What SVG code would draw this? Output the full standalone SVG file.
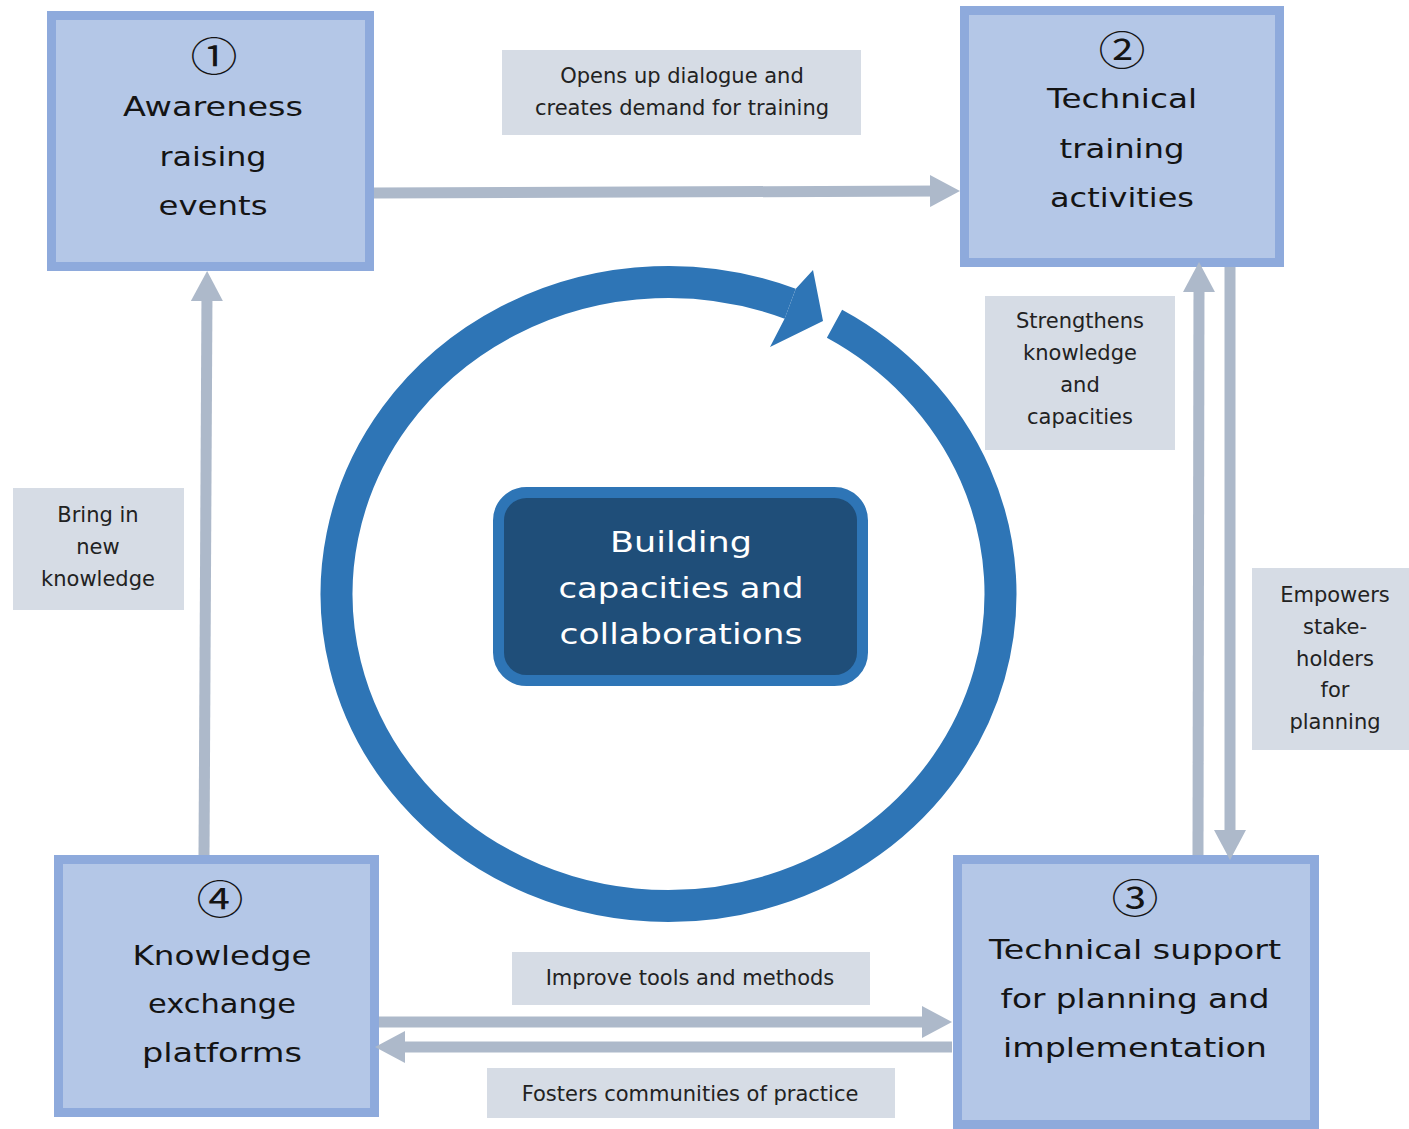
<svg xmlns="http://www.w3.org/2000/svg" width="1409" height="1129" viewBox="0 0 1409 1129">
<style>
.node{fill:#b4c7e7;stroke:#8eaadc;stroke-width:9}
.nt{font-family:"DejaVu Sans",sans-serif;font-size:27px;fill:#141414;text-anchor:middle}
.num{font-family:"Noto Sans CJK JP","DejaVu Sans",sans-serif;font-size:40px;fill:#141414;text-anchor:middle}
.lbl{fill:#d6dce5}
.lt{font-family:"DejaVu Sans",sans-serif;font-size:21px;fill:#222;text-anchor:middle}
.ct{font-family:"DejaVu Sans",sans-serif;font-size:28px;fill:#fff;text-anchor:middle}
.conn{stroke:#adb9ca;stroke-width:11;fill:none;marker-end:url(#ah)}
</style>
<defs>
<marker id="ah" markerUnits="userSpaceOnUse" markerWidth="30" markerHeight="32" refX="10" refY="16" orient="auto" viewBox="0 0 30 32">
<path d="M0,0 L30,16 L0,32 z" fill="#adb9ca"/>
</marker>
</defs>
<rect width="1409" height="1129" fill="#fff"/>

<g id="cycle">
<path d="M834.5,323.8 A332,312 0 0,1 668.5,906 A332,312 0 1,1 790.2,303.7" fill="none" stroke="#2e75b6" stroke-width="32"/>
<polygon points="795.8,288.7 813,270 823,321 770,347 784.6,318.7" fill="#2e75b6"/>
</g>

<g id="center">
<rect x="498.5" y="492.5" width="364" height="188" rx="28" fill="#1f4e79" stroke="#2e75b6" stroke-width="11"/>
<text class="ct" x="681" y="552" textLength="142" lengthAdjust="spacingAndGlyphs">Building</text>
<text class="ct" x="681" y="598" textLength="245" lengthAdjust="spacingAndGlyphs">capacities and</text>
<text class="ct" x="681" y="644" textLength="243" lengthAdjust="spacingAndGlyphs">collaborations</text>
</g>

<g id="labels">
<g id="lbl-opens"><rect class="lbl" x="502" y="50" width="359" height="85"/>
<text class="lt" x="682" y="83">Opens up dialogue and</text>
<text class="lt" x="682" y="115">creates demand for training</text></g>
<g id="lbl-strength"><rect class="lbl" x="985" y="296" width="190" height="154"/>
<text class="lt" x="1080" y="328">Strengthens</text>
<text class="lt" x="1080" y="360">knowledge</text>
<text class="lt" x="1080" y="392">and</text>
<text class="lt" x="1080" y="424">capacities</text></g>
<g id="lbl-empowers"><rect class="lbl" x="1252" y="568" width="157" height="182"/>
<text class="lt" x="1335" y="602">Empowers</text>
<text class="lt" x="1335" y="634">stake-</text>
<text class="lt" x="1335" y="666">holders</text>
<text class="lt" x="1335" y="697">for</text>
<text class="lt" x="1335" y="729">planning</text></g>
<g id="lbl-bring"><rect class="lbl" x="13" y="488" width="171" height="122"/>
<text class="lt" x="98" y="522">Bring in</text>
<text class="lt" x="98" y="554">new</text>
<text class="lt" x="98" y="586">knowledge</text></g>
<g id="lbl-improve"><rect class="lbl" x="512" y="952" width="358" height="53"/>
<text class="lt" x="690" y="985">Improve tools and methods</text></g>
<g id="lbl-fosters"><rect class="lbl" x="487" y="1068" width="408" height="50"/>
<text class="lt" x="690" y="1101">Fosters communities of practice</text></g>
</g>

<g id="node1">
<rect class="node" x="51.5" y="15.5" width="318" height="251"/>
<text class="num" x="214" y="71" textLength="47" lengthAdjust="spacingAndGlyphs">①</text>
<text class="nt" x="213" y="116" textLength="180" lengthAdjust="spacingAndGlyphs">Awareness</text>
<text class="nt" x="213" y="166" textLength="107" lengthAdjust="spacingAndGlyphs">raising</text>
<text class="nt" x="213" y="215" textLength="109" lengthAdjust="spacingAndGlyphs">events</text>
</g>

<g id="node2">
<rect class="node" x="964.5" y="10.5" width="315" height="252"/>
<text class="num" x="1122" y="65" textLength="47" lengthAdjust="spacingAndGlyphs">②</text>
<text class="nt" x="1122" y="108" textLength="150" lengthAdjust="spacingAndGlyphs">Technical</text>
<text class="nt" x="1122" y="158" textLength="125" lengthAdjust="spacingAndGlyphs">training</text>
<text class="nt" x="1122" y="207" textLength="144" lengthAdjust="spacingAndGlyphs">activities</text>
</g>

<g id="node3">
<rect class="node" x="957.5" y="859.5" width="357" height="265"/>
<text class="num" x="1135" y="913" textLength="47" lengthAdjust="spacingAndGlyphs">③</text>
<text class="nt" x="1135" y="959" textLength="292" lengthAdjust="spacingAndGlyphs">Technical support</text>
<text class="nt" x="1135" y="1008" textLength="269" lengthAdjust="spacingAndGlyphs">for planning and</text>
<text class="nt" x="1135" y="1057" textLength="264" lengthAdjust="spacingAndGlyphs">implementation</text>
</g>

<g id="node4">
<rect class="node" x="58.5" y="859.5" width="316" height="253"/>
<text class="num" x="220" y="914" textLength="47" lengthAdjust="spacingAndGlyphs">④</text>
<text class="nt" x="222" y="965" textLength="179" lengthAdjust="spacingAndGlyphs">Knowledge</text>
<text class="nt" x="222" y="1013" textLength="148" lengthAdjust="spacingAndGlyphs">exchange</text>
<text class="nt" x="222" y="1062" textLength="160" lengthAdjust="spacingAndGlyphs">platforms</text>
</g>

<g id="connectors">
<path class="conn" d="M374,193 L940,191"/>
<path class="conn" d="M204,855 L207,291"/>
<path class="conn" d="M1198,855 L1199,282"/>
<path class="conn" d="M1230,267 L1230,840"/>
<path class="conn" d="M379,1022 L932,1022"/>
<path class="conn" d="M952,1047 L395,1047"/>
</g>
</svg>
